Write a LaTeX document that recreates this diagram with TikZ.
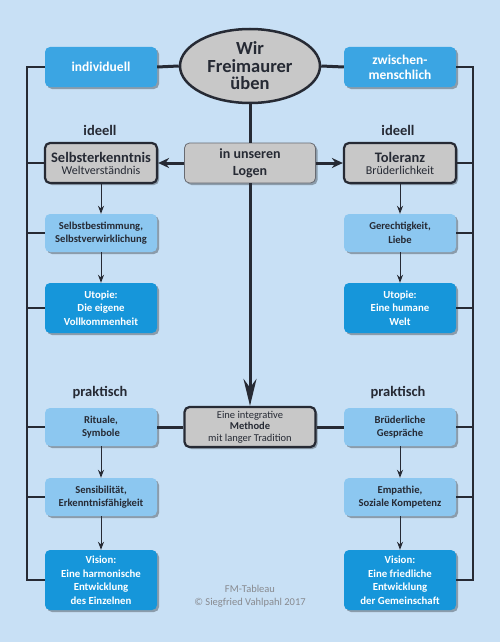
\documentclass[tikz,border=0pt]{standalone}
\usepackage{fontspec}
\setmainfont{Carlito}
\usetikzlibrary{arrows.meta,shadows,shapes.geometric}
\definecolor{bgblue}{RGB}{200,224,245}
\definecolor{midblue}{RGB}{59,165,227}
\definecolor{paleblue}{RGB}{140,199,240}
\definecolor{deepblue}{RGB}{22,150,218}
\definecolor{boxgrey}{RGB}{200,200,200}
\definecolor{ink}{RGB}{38,42,52}
\tikzset{
 card/.style={rounded corners=5pt, minimum width=112pt, minimum height=40pt,
   align=center, inner sep=2pt, text=ink,
   drop shadow={shadow xshift=2pt, shadow yshift=-2pt, opacity=.3, fill=black}},
 topbox/.style={card, fill=midblue, text=white, font=\fontsize{13.5}{15}\selectfont\bfseries},
 greybox/.style={card, fill=boxgrey, draw=ink, line width=2.2pt},
 logenbox/.style={card, fill=boxgrey, draw=ink!70, line width=.8pt, minimum width=131pt,
   font=\fontsize{14}{17}\selectfont\bfseries},
 palebox/.style={card, fill=paleblue, minimum height=38pt, font=\fontsize{10.6}{13.5}\selectfont\bfseries},
 deepbox/.style={card, fill=deepblue, text=white, font=\fontsize{10.8}{13.5}\selectfont\bfseries},
 lab/.style={text=ink, font=\fontsize{14.5}{16}\selectfont\bfseries},
 frame/.style={draw=ink, line width=1.2pt},
 thickline/.style={draw=ink, line width=3pt},
 thinarrow/.style={draw=ink, line width=1pt, -{Stealth[length=8pt,width=6pt]}},
 sidearrow/.style={draw=ink, line width=3pt, -{Stealth[length=11pt,width=10pt]}},
 bigarrow/.style={draw=ink, line width=3pt, -{Stealth[length=27pt,width=13pt]}},
}

\begin{document}
\begin{tikzpicture}[x=1pt,y=-1pt]
    \fill[bgblue] (0,0) rectangle (500,642);
    \useasboundingbox (0,0) rectangle (500,642);

    % top row
    \node[ellipse, draw=ink, line width=2.5pt, fill=boxgrey, minimum width=140pt, minimum height=74pt,
        inner sep=0pt, align=center, text=ink, font=\fontsize{18.5}{17.5}\selectfont\bfseries] (wir) at (250,66) {Wir\\Freimaurer\\üben};
    \node[topbox] (indiv) at (101,67) {individuell};
    \node[topbox] (zwisch) at (400,67) {zwischen-\\menschlich};

    % ideell
    \node[lab] at (100,130) {ideell};
    \node[lab] at (398,130) {ideell};
    \node[greybox] (selbst) at (101,163) {{\fontsize{14.5}{15}\selectfont\bfseries Selbsterkenntnis}\\{\fontsize{12}{13}\selectfont Weltverständnis}};
    \node[logenbox] (logen) at (250,163) {in unseren\\Logen};
    \node[greybox] (toler) at (400,163) {{\fontsize{14.5}{15}\selectfont\bfseries Toleranz}\\{\fontsize{12}{13}\selectfont Brüderlichkeit}};
    \node[palebox] (bestimm) at (101,233) {Selbstbestimmung,\\Selbstverwirklichung};
    \node[palebox] (gerecht) at (400,233) {Gerechtigkeit,\\Liebe};
    \node[deepbox, minimum height=50pt] (utopa) at (101,308) {Utopie:\\Die eigene\\Vollkommenheit};
    \node[deepbox, minimum height=50pt] (utopb) at (400,308) {Utopie:\\Eine humane\\Welt};

    % praktisch
    \node[lab] at (100,393) {praktisch};
    \node[lab] at (398,393) {praktisch};
    \node[palebox] (ritual) at (101,427) {Rituale,\\Symbole};
    \node[greybox, minimum width=131pt, font=\fontsize{10.5}{11.5}\selectfont] (methode) at (250,427) {Eine integrative\\\textbf{Methode}\\mit langer Tradition};
    \node[palebox] (gespr) at (400,427) {Brüderliche\\Gespräche};
    \node[palebox] (sensib) at (101,497) {Sensibilität,\\Erkenntnisfähigkeit};
    \node[palebox] (empath) at (400,497) {Empathie,\\Soziale Kompetenz};
    \node[deepbox, minimum height=60pt] (visa) at (101,580) {Vision:\\Eine harmonische\\Entwicklung\\des Einzelnen};
    \node[deepbox, minimum height=60pt] (visb) at (400,580) {Vision:\\Eine friedliche\\Entwicklung\\der Gemeinschaft};

    \node[text=ink!55, align=center, font=\fontsize{10.5}{13}\selectfont] (credit) at (250,596) {FM-Tableau\\© Siegfried Vahlpahl 2017};

    % connectors
    \draw[thickline] (indiv.east) -- (wir.west);
    \draw[thickline] (wir.east) -- (zwisch.west);
    \draw[thickline] (wir.south) -- (logen.north);
    \draw[bigarrow] (logen.south) -- (methode.north);
    \draw[sidearrow] (logen.west) -- (selbst.east);
    \draw[sidearrow] (logen.east) -- (toler.west);
    \draw[thickline] (methode.west) -- (ritual.east);
    \draw[thickline] (methode.east) -- (gespr.west);

    \draw[thinarrow] (selbst.south) -- (bestimm.north);
    \draw[thinarrow] (bestimm.south) -- (utopa.north);
    \draw[thinarrow] (toler.south) -- (gerecht.north);
    \draw[thinarrow] (gerecht.south) -- (utopb.north);
    \draw[thinarrow] (ritual.south) -- (sensib.north);
    \draw[thinarrow] (sensib.south) -- (visa.north);
    \draw[thinarrow] (gespr.south) -- (empath.north);
    \draw[thinarrow] (empath.south) -- (visb.north);

    % outer frame
    \coordinate (lx) at (27,0);
    \coordinate (rx) at (473,0);
    \draw[frame] (indiv.west) -- (indiv.west -| lx) -- (visa.west -| lx) -- (visa.west);
    \draw[frame] (zwisch.east) -- (zwisch.east -| rx) -- (visb.east -| rx) -- (visb.east);
    \foreach \n in {selbst,bestimm,utopa,ritual,sensib}
        \draw[frame] (\n.west) -- (\n.west -| lx);
    \foreach \n in {toler,gerecht,utopb,gespr,empath}
        \draw[frame] (\n.east) -- (\n.east -| rx);
\end{tikzpicture}
\end{document}
